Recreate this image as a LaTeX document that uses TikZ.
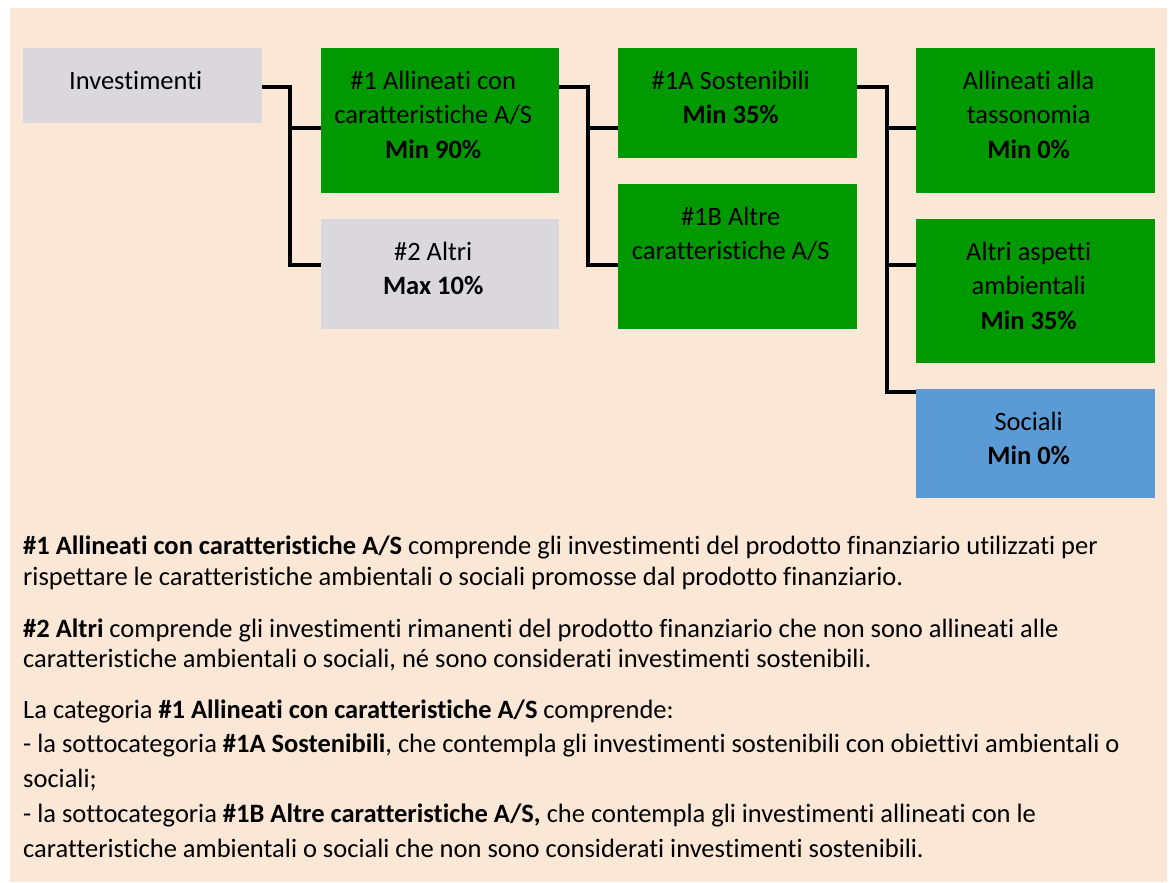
\documentclass[tikz,border=0pt]{standalone}
\usepackage{fontspec}
\setmainfont{Carlito}[Ligatures = NoCommon]
\definecolor{bgpeach}{HTML}{FAE7D5}
\definecolor{boxgreen}{HTML}{009900}
\definecolor{boxgrey}{HTML}{DAD8DD}
\definecolor{boxblue}{HTML}{5B9BD5}
% box of width #1 and height #2, text on top
\newcommand{\cellbox}[3]{%
  \begin{minipage}[t][#2pt][t]{\dimexpr#1pt-14pt\relax}\centering\rule{0pt}{41pt}#3\end{minipage}\hspace*{14pt}}
\tikzset{
  cell/.style = {anchor = north west, inner sep = 0pt, fill = #1, font = \fontsize{26.5}{34.5}\selectfont},
  link/.style = {line width = 4pt, line join = miter},
  para/.style = {anchor = base west, inner sep = 0pt}
}
\begin{document}
\begin{tikzpicture}[x = 1pt, y = -1pt]
  \useasboundingbox (0, 0) rectangle (1173, 883);
  \fill[bgpeach] (10, 8) rectangle (1167, 882);
  % rows of the connectors
  \coordinate (r1) at (0, 87);
  \coordinate (r2) at (0, 128);
  \coordinate (r3) at (0, 265);
  \coordinate (r4) at (0, 392);

  \node[cell = boxgrey]  (inv) at (23, 48)   {\cellbox{239}{75}{Investimenti}};
  \node[cell = boxgreen] (n1)  at (321, 48)  {\cellbox{238}{145}{\#1 Allineati con\\ caratteristiche A/S\\ \textbf{Min 90\%}}};
  \node[cell = boxgrey]  (n2)  at (321, 219) {\cellbox{238}{110}{\#2 Altri\\ \textbf{Max 10\%}}};
  \node[cell = boxgreen] (n1a) at (618, 48)  {\cellbox{239}{110}{\#1A Sostenibili\\ \textbf{Min 35\%}}};
  \node[cell = boxgreen] (n1b) at (618, 184) {\cellbox{239}{145}{\#1B Altre\\ caratteristiche A/S}};
  \node[cell = boxgreen] (tax) at (916, 48)  {\cellbox{239}{145}{Allineati alla\\ tassonomia\\ \textbf{Min 0\%}}};
  \node[cell = boxgreen] (amb) at (916, 219) {\cellbox{239}{144}{Altri aspetti\\ ambientali\\ \textbf{Min 35\%}}};
  \node[cell = boxblue]  (soc) at (916, 389) {\cellbox{239}{109}{Sociali\\ \textbf{Min 0\%}}};

  \draw[link] (inv.east |- r1) -- ++(28, 0) coordinate (jA) |- (n2.west |- r3);
  \draw[link] (jA |- r2) -- (n1.west |- r2);
  \draw[link] (n1.east |- r1) -- ++(29, 0) coordinate (jB) |- (n1b.west |- r3);
  \draw[link] (jB |- r2) -- (n1a.west |- r2);
  \draw[link] (n1a.east |- r1) -- ++(30, 0) coordinate (jC) |- (soc.west |- r4);
  \draw[link] (jC |- r2) -- (tax.west |- r2);
  \draw[link] (jC |- r3) -- (amb.west |- r3);

  \node[para, font = \fontsize{26.5}{31}\selectfont] (p1) at (23, 554) {\begin{minipage}[t]{1200pt}\raggedright
    \textbf{\#1 Allineati con caratteristiche A/S} comprende gli investimenti del prodotto finanziario utilizzati per\\
    rispettare le caratteristiche ambientali o sociali promosse dal prodotto finanziario.\end{minipage}};
  \node[para, font = \fontsize{26.5}{30}\selectfont] (p2) at (23, 637) {\begin{minipage}[t]{1200pt}\raggedright
    \textbf{\#2 Altri} comprende gli investimenti rimanenti del prodotto finanziario che non sono allineati alle\\
    caratteristiche ambientali o sociali, né sono considerati investimenti sostenibili.\end{minipage}};
  \node[para, font = \fontsize{26.5}{34.75}\selectfont] (p3) at (23, 718) {\begin{minipage}[t]{1200pt}\raggedright
    La categoria \textbf{\#1 Allineati con caratteristiche A/S} comprende:\\
    - la sottocategoria \textbf{\#1A Sostenibili}, che contempla gli investimenti sostenibili con obiettivi ambientali o\\
    sociali;\\
    - la sottocategoria \textbf{\#1B Altre caratteristiche A/S,} che contempla gli investimenti allineati con le\\
    caratteristiche ambientali o sociali che non sono considerati investimenti sostenibili.\end{minipage}};
\end{tikzpicture}
\end{document}
